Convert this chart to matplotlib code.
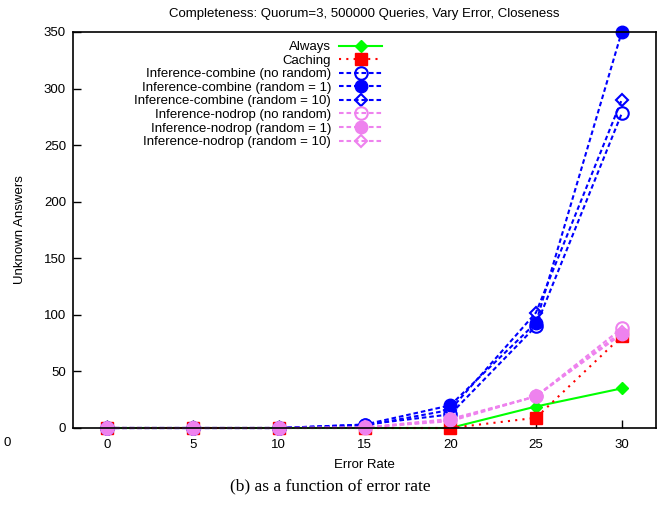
import matplotlib.pyplot as plt

plt.rcParams['font.family'] = ['Liberation Sans', 'DejaVu Sans']

# Error rates on the x axis
error_rate = [0, 5, 10, 15, 20, 25, 30]

# Unknown answers for each scheme
always = [0, 0, 0, 0, 0, 19, 35]
caching = [0, 0, 0, 0, 0, 9, 81]
comb_norand = [0, 0, 0, 3, 12, 90, 278]
comb_rand1 = [0, 0, 0, 3, 20, 93, 350]
comb_rand10 = [0, 0, 0, 2, 16, 102, 290]
nodrop_norand = [0, 0, 0, 0.5, 8, 28, 88]
nodrop_rand1 = [0, 0, 0, 0, 7, 28, 83]
nodrop_rand10 = [0, 0, 0, 0.5, 6, 28, 85]

blue = '#0000ff'
violet = '#ee82ee'
dash = (0, (2.2, 1.4))
fs = 9.5

fig = plt.figure(figsize=(6.61, 5.08), dpi=100)
ax = fig.add_axes([73 / 661, 1 - 428 / 508, (656 - 73) / 661, (428 - 32) / 508])

lw = 1.5
ax.plot(error_rate, always, color='#00ff00', lw=lw, marker='D', ms=6,
        label='Always', clip_on=False)
ax.plot(error_rate, caching, color='#ff0000', lw=lw, ls=(0, (1, 2.5)), marker='s', ms=8,
        label='Caching', clip_on=False)
ax.plot(error_rate, comb_norand, color=blue, lw=lw, ls=dash, marker='o', ms=9,
        mfc='none', mew=1.5, label='Inference-combine (no random)', clip_on=False)
ax.plot(error_rate, comb_rand1, color=blue, lw=lw, ls=dash, marker='o', ms=9,
        label='Inference-combine (random = 1)', clip_on=False)
ax.plot(error_rate, comb_rand10, color=blue, lw=lw, ls=dash, marker='D', ms=6.5,
        mfc='none', mew=1.5, label='Inference-combine (random = 10)', clip_on=False)
ax.plot(error_rate, nodrop_norand, color=violet, lw=lw, ls=dash, marker='o', ms=9,
        mfc='none', mew=1.5, label='Inference-nodrop (no random)', clip_on=False)
ax.plot(error_rate, nodrop_rand1, color=violet, lw=lw, ls=dash, marker='o', ms=9,
        label='Inference-nodrop (random = 1)', clip_on=False)
ax.plot(error_rate, nodrop_rand10, color=violet, lw=lw, ls=dash, marker='D', ms=6.5,
        mfc='none', mew=1.5, label='Inference-nodrop (random = 10)', clip_on=False)

ax.set_xlim(-2, 32)
ax.set_ylim(0, 350)
ax.set_xticks(range(0, 31, 5))
ax.set_yticks(range(0, 351, 50))
ax.tick_params(direction='in', length=6, width=1, labelsize=fs)
ax.tick_params(axis='x', pad=8)
ax.tick_params(axis='y', pad=5)
for s in ax.spines.values():
    s.set_linewidth(1.2)

ax.set_title('Completeness: Quorum=3, 500000 Queries, Vary Error, Closeness',
             fontsize=fs, pad=11)
ax.set_xlabel('Error Rate', fontsize=fs, labelpad=6)
ax.set_ylabel('Unknown Answers', fontsize=fs, labelpad=13)

ax.legend(loc='upper right', bbox_to_anchor=(382 / 661, 1 - 41 / 508),
          bbox_transform=fig.transFigure, frameon=False, markerfirst=False,
          fontsize=fs, handlelength=3.25, handletextpad=0.6, labelspacing=0.1,
          borderpad=0, borderaxespad=0)

fig.text(7 / 661, 1 - 443 / 508, '0', fontsize=fs, ha='center', va='center')
fig.text(330 / 661, 1 - 486 / 508, '(b) as a function of error rate',
         fontsize=12.5, family='Liberation Serif', ha='center', va='center')

fig.savefig('out.png', dpi=100)
